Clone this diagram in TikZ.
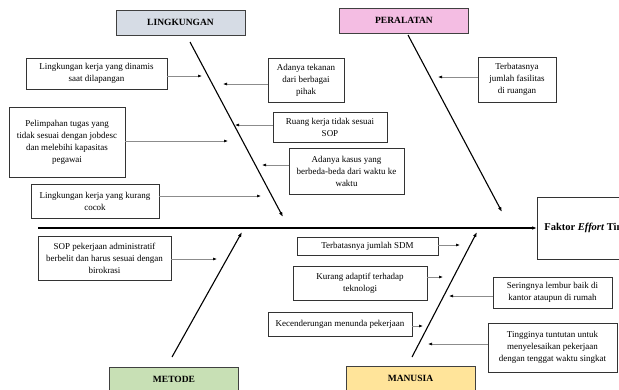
\documentclass[tikz,border=0pt]{standalone}
\usepackage{fontspec}
\setmainfont{Liberation Serif}
\usetikzlibrary{arrows.meta}

\begin{document}
\begin{tikzpicture}[x=1pt,y=-1pt,
    font=\fontsize{9}{12}\selectfont,
    kategori/.style={draw=black!75,line width=1pt,minimum width=129pt,minimum height=25pt,inner sep=0pt,font=\fontsize{9.5}{11}\selectfont\bfseries},
    sebab/.style={draw=black!80,line width=0.7pt,inner sep=0pt,align=center},
    tulang/.style={line width=1.1pt,-{Latex[length=5pt,width=3.6pt]}},
    panah/.style={draw=black!45,line width=0.6pt,-{Latex[length=4pt,width=3pt,color=black]}}]
      \useasboundingbox (0,0) rectangle (619,389);%

      % kategori
      \node[kategori,fill={rgb,255:red,214;green,220;blue,229}] (LK) at (180.5,22.5) {LINGKUNGAN};%
      \node[kategori,fill={rgb,255:red,244;green,189;blue,227}] (PR) at (404,20.5) {PERALATAN};%
      \node[kategori,fill={rgb,255:red,200;green,224;blue,181}] (MT) at (174,379.5) {METODE};%
      \node[kategori,fill={rgb,255:red,255;green,228;blue,154}] (MN) at (410.5,378.5) {MANUSIA};%

      % akibat
      \node[draw=black!80,line width=0.8pt,anchor=west,minimum height=62pt,inner xsep=7pt,font=\fontsize{10.5}{12}\selectfont\bfseries] (EF) at (537,228) {Faktor \textit{Effort} Tinggi};%

      % tulang
      \coordinate (S0) at (38,228);%
      \coordinate (L0) at (190,42);%
      \coordinate (L1) at (283,217);%
      \coordinate (P0) at (408,35);%
      \coordinate (P1) at (502,212);%
      \coordinate (M0) at (172,357);%
      \coordinate (M1) at (242,232);%
      \coordinate (N0) at (412,357);%
      \coordinate (N1) at (477,232);%

      \draw[line width=1.4pt,-{Latex[length=5pt,width=3.6pt]}] (S0) -- (EF.west);%
      \draw[tulang] (L0) -- (L1);%
      \draw[tulang] (P0) -- (P1);%
      \draw[tulang] (M0) -- (M1);%
      \draw[tulang] (N0) -- (N1);%

      % sebab lingkungan
      \node[sebab,minimum width=141pt,minimum height=31pt] (C1) at (96.5,73.5) {Lingkungan kerja yang dinamis\\saat dilapangan};%
      \node[sebab,minimum width=116pt,minimum height=70pt] (C2) at (67,142) {Pelimpahan tugas yang\\tidak sesuai dengan jobdesc\\dan melebihi kapasitas\\pegawai};%
      \node[sebab,minimum width=128pt,minimum height=34pt] (C3) at (95,201) {Lingkungan kerja yang kurang\\cocok};%
      \node[sebab,minimum width=76pt,minimum height=44pt] (C4) at (306,80) {Adanya tekanan\\dari berbagai\\pihak};%
      \node[sebab,minimum width=114pt,minimum height=30pt] (C5) at (330,127) {Ruang kerja tidak sesuai\\SOP};%
      \node[sebab,minimum width=115pt,minimum height=46pt] (C6) at (346.5,171) {Adanya kasus yang\\berbeda-beda dari waktu ke\\waktu};%

      % sebab peralatan
      \node[sebab,minimum width=78pt,minimum height=45pt] (C7) at (517,79.5) {Terbatasnya\\jumlah fasilitas\\di ruangan};%

      % sebab metode
      \node[sebab,minimum width=133pt,minimum height=44pt] (C8) at (104.5,258) {SOP pekerjaan administratif\\berbelit dan harus sesuai dengan\\birokrasi};%

      % sebab manusia
      \node[sebab,minimum width=141pt,minimum height=18pt] (C9) at (367.5,246) {Terbatasnya jumlah SDM};%
      \node[sebab,minimum width=134pt,minimum height=34pt] (C10) at (360,283) {Kurang adaptif terhadap\\teknologi};%
      \node[sebab,minimum width=144pt,minimum height=24pt] (C11) at (340,324) {Kecenderungan menunda pekerjaan};%
      \node[sebab,minimum width=119pt,minimum height=31pt] (C12) at (552.5,292.5) {Seringnya lembur baik di\\kantor ataupun di rumah};%
      \node[sebab,minimum width=129pt,minimum height=49pt] (C13) at (552.5,347.5) {Tingginya tuntutan untuk\\menyelesaikan pekerjaan\\dengan tenggat waktu singkat};%

      % ujung panah
      \coordinate (T1) at (202,76);%
      \coordinate (T2) at (228,141);%
      \coordinate (T3) at (261,196);%
      \coordinate (T4) at (223,84);%
      \coordinate (T5) at (235,125);%
      \coordinate (T6) at (262,165);%
      \coordinate (T7) at (438,77);%
      \coordinate (T8) at (217,259);%
      \coordinate (T9) at (460,245);%
      \coordinate (T10) at (443,277);%
      \coordinate (T11) at (423,326);%
      \coordinate (T12) at (449,296);%
      \coordinate (T13) at (428,344);%

      \draw[panah] (T1 -| C1.east) -- (T1);%
      \draw[panah] (T2 -| C2.east) -- (T2);%
      \draw[panah] (T3 -| C3.east) -- (T3);%
      \draw[panah] (T4 -| C4.west) -- (T4);%
      \draw[panah] (T5 -| C5.west) -- (T5);%
      \draw[panah] (T6 -| C6.west) -- (T6);%
      \draw[panah] (T7 -| C7.west) -- (T7);%
      \draw[panah] (T8 -| C8.east) -- (T8);%
      \draw[panah] (T9 -| C9.east) -- (T9);%
      \draw[panah] (T10 -| C10.east) -- (T10);%
      \draw[panah] (T11 -| C11.east) -- (T11);%
      \draw[panah] (T12 -| C12.west) -- (T12);%
      \draw[panah] (T13 -| C13.west) -- (T13);%
    \end{tikzpicture}
\end{document}
